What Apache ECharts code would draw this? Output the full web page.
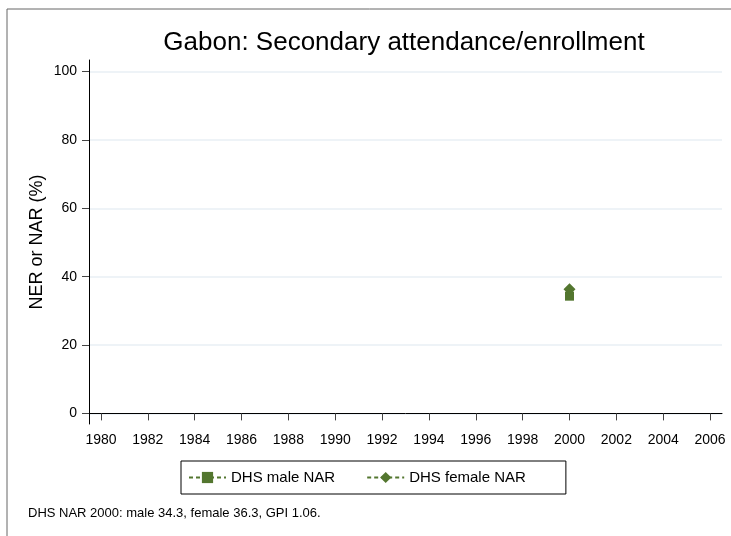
<!DOCTYPE html>
<html>
<head>
<meta charset="utf-8">
<script src="https://cdn.jsdelivr.net/npm/echarts@6/dist/echarts.min.js"></script>
<style>
  html, body { margin: 0; padding: 0; background: #fff; }
  #main { width: 731px; height: 536px; }
</style>
</head>
<body>
<div id="main"></div>
<script>
// data
var years = [2000];
var maleNAR = [34.3];
var femaleNAR = [36.3];
var xTicks = [1980, 1982, 1984, 1986, 1988, 1990, 1992, 1994, 1996, 1998, 2000, 2002, 2004, 2006];
var yTicks = [0, 20, 40, 60, 80, 100];

var green = '#53762f';
var font = 'Liberation Sans, Arial, sans-serif';

var myChart = echarts.init(document.getElementById('main'));
myChart.setOption({
    animation: false,
    textStyle: { fontFamily: font },
    graphic: [
        {   // outer frame
            type: 'rect',
            shape: { x: 7, y: 9, width: 740, height: 540 },
            style: { fill: 'none', stroke: '#666', lineWidth: 1 },
            silent: true
        },
        {
            type: 'text',
            x: 404, y: 43,
            style: {
                text: 'Gabon: Secondary attendance/enrollment',
                fontFamily: font, fontSize: 26, fill: '#000',
                align: 'center', verticalAlign: 'middle'
            }
        },
        {
            type: 'text',
            x: 28, y: 513,
            style: {
                text: 'DHS NAR 2000: male 34.3, female 36.3, GPI 1.06.',
                fontFamily: font, fontSize: 13, fill: '#000',
                verticalAlign: 'middle'
            }
        }
    ],
    grid: { left: 89, right: 9, top: 60, bottom: 112 },
    legend: {
        left: 181, top: 461,
        padding: [9, 40, 9, 7],
        itemWidth: 37, itemHeight: 14, itemGap: 31,
        borderColor: '#000', borderWidth: 1,
        textStyle: { fontSize: 15, color: '#000', fontFamily: font },
        data: ['DHS male NAR', 'DHS female NAR']
    },
    xAxis: {
        type: 'value',
        min: 1979.49, max: 2006.51,
        axisLine: { lineStyle: { color: '#000', width: 1 } },
        axisTick: { length: 7, lineStyle: { color: '#444' }, customValues: xTicks },
        axisLabel: {
            customValues: xTicks, fontSize: 14, color: '#000', margin: 9,
            formatter: function (v) { return String(v); }
        },
        splitLine: { show: false }
    },
    yAxis: {
        type: 'value',
        min: -3.1, max: 103.4,
        name: 'NER or NAR (%)',
        nameLocation: 'middle',
        nameGap: 43,
        nameMoveOverlap: false,
        nameTextStyle: { fontSize: 18, color: '#000' },
        axisLine: { show: true, lineStyle: { color: '#000', width: 1 } },
        axisTick: { show: true, length: 7, lineStyle: { color: '#444' }, customValues: yTicks },
        axisLabel: { customValues: yTicks, fontSize: 14, color: '#000', margin: 12 },
        splitLine: { show: true, lineStyle: { color: '#e9eff5', width: 1.5 } }
    },
    series: [
        {
            name: 'DHS male NAR',
            type: 'line',
            data: years.map(function (y, i) { return [y, maleNAR[i]]; }),
            symbol: 'rect',
            symbolSize: 9,
            itemStyle: { color: green },
            lineStyle: { color: green, type: [4, 3], width: 1 }
        },
        {
            name: 'DHS female NAR',
            type: 'line',
            data: years.map(function (y, i) { return [y, femaleNAR[i]]; }),
            symbol: 'diamond',
            symbolSize: 12,
            itemStyle: { color: green },
            lineStyle: { color: green, type: [4, 3], width: 1 }
        }
    ]
});
</script>
</body>
</html>
